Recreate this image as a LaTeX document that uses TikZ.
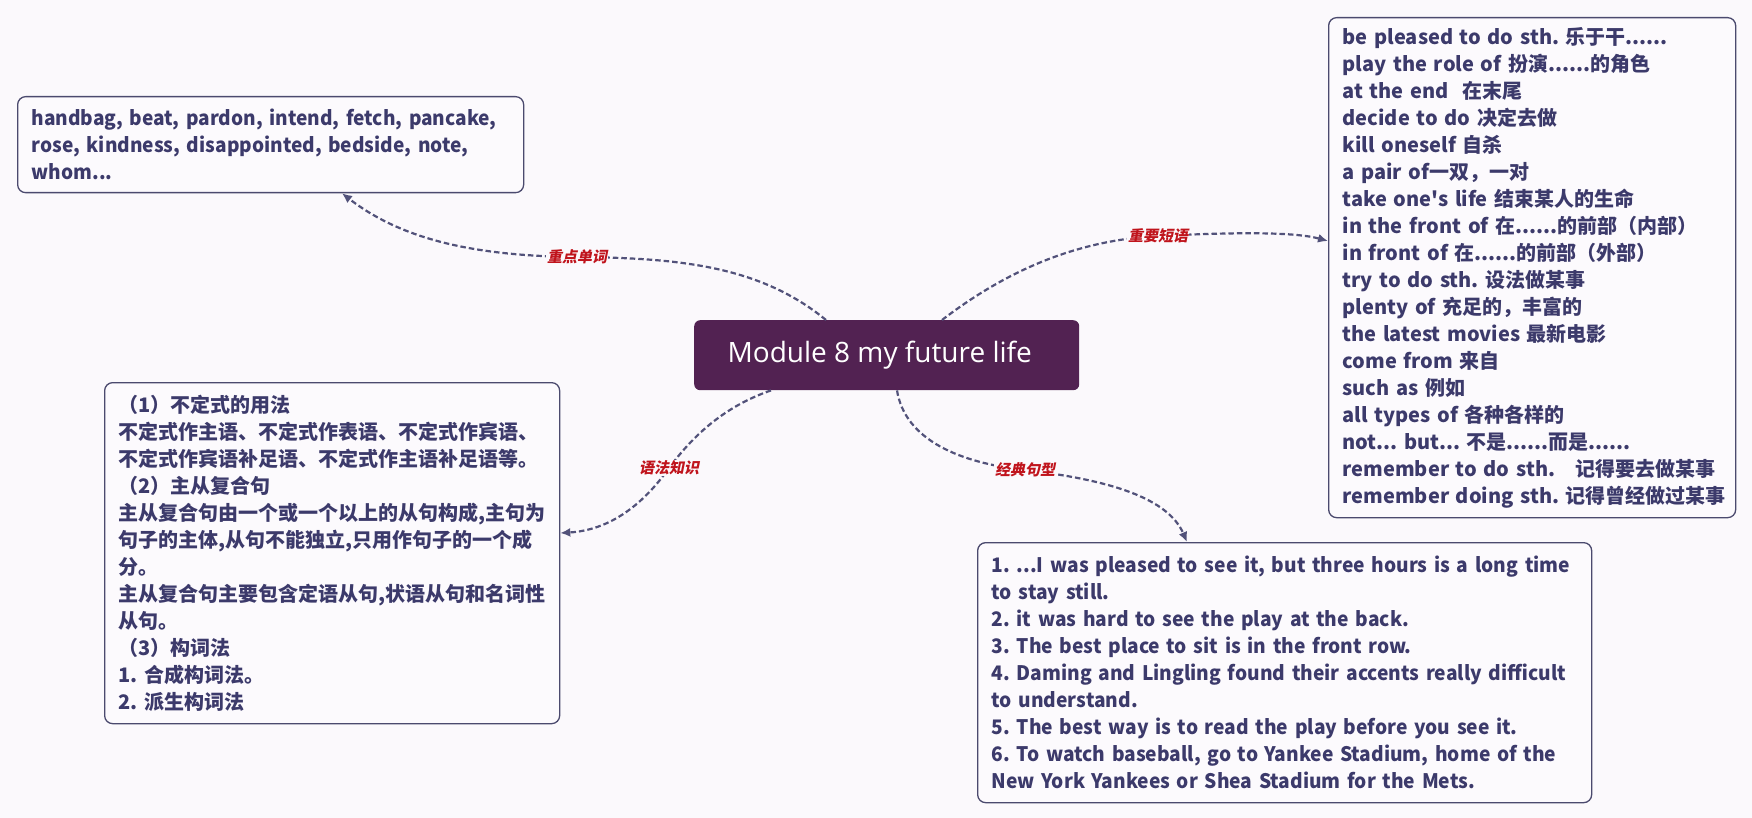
\documentclass[tikz,border=0pt]{standalone}
\usepackage{fontspec}
\setmainfont{Noto Sans CJK SC}[Ligatures=TeXOff]
\newfontfamily\lblfont[FakeSlant=0.2]{Noto Sans CJK SC}
\newfontfamily\brfont[FakeStretch=0.96,Ligatures=TeXOff]{Noto Sans CJK SC}
\newfontfamily\tlfont[FakeStretch=0.955,Ligatures=TeXOff]{Noto Sans CJK SC}
\newfontfamily\ctrfont{Open Sans}
\usetikzlibrary{arrows.meta}
\definecolor{bgc}{HTML}{FBF9FC}
\definecolor{boxfill}{HTML}{FCFAFD}
\definecolor{boxc}{HTML}{4B4A6E}
\definecolor{txtc}{HTML}{3C3A6B}
\definecolor{linec}{HTML}{52527A}
\definecolor{ctrc}{HTML}{522252}
\definecolor{lblc}{HTML}{C0141C}
\newcommand\Ln[1]{\mbox{#1}\\}
\newcommand\Lz[1]{\mbox{#1}}
\tikzset{
  box/.style={draw=boxc, line width=1.3pt, rounded corners=8pt, fill=boxfill,
    anchor=north west, inner xsep=14pt, inner ysep=0pt, align=left, text=txtc,
    font=\bfseries\fontsize{20}{27}\selectfont\frenchspacing},
  conn/.style={draw=linec, line width=2.2pt, dash pattern=on 5.5pt off 3pt,
    -{Latex[length=10pt,width=9pt]}},
  lbl/.style={font=\lblfont\bfseries\fontsize{15}{15}\selectfont, text=lblc, fill=bgc, inner sep=1pt},
  ctrbox/.style={fill=ctrc, rounded corners=6pt, anchor=north west, text=white,
    font=\ctrfont\fontsize{28}{30}\selectfont, inner sep=0pt}
}
\begin{document}
\begin{tikzpicture}[x=1pt,y=-1pt]
\fill[bgc] (0,0) rectangle (1752,818);
\useasboundingbox (0,0) rectangle (1752,818);

\node[ctrbox, minimum width=385pt, minimum height=70pt] (ctr) at (694,320) {\mbox{Module 8 my future life\kern14pt}};

\node[box, text width=478pt, minimum height=96pt, font=\tlfont\bfseries\fontsize{20}{27}\selectfont\frenchspacing] (tl) at (17,96)
{\Ln{handbag, beat, pardon, intend, fetch, pancake,}
\Ln{rose, kindness, disappointed, bedside, note,}
\Lz{whom...}};

\node[box, text width=379pt, minimum height=500pt] (tr) at (1328,17)
{\Ln{be pleased to do sth. 乐于干......}
\Ln{play the role of 扮演......的角色}
\Ln{at the end\ \ 在末尾}
\Ln{decide to do 决定去做}
\Ln{kill oneself 自杀}
\Ln{a pair of一双，一对}
\Ln{take one's life 结束某人的生命}
\Ln{in the front of 在......的前部（内部）}
\Ln{in front of 在......的前部（外部）}
\Ln{try to do sth. 设法做某事}
\Ln{plenty of 充足的，丰富的}
\Ln{the latest movies 最新电影}
\Ln{come from 来自}
\Ln{such as 例如}
\Ln{all types of 各种各样的}
\Ln{not... but... 不是......而是......}
\Ln{remember to do sth.\ \ \ 记得要去做某事}
\Lz{remember doing sth. 记得曾经做过某事}};

\node[box, text width=427pt, minimum height=341pt] (bl) at (104,382)
{\Ln{（1）不定式的用法}
\Ln{不定式作主语、不定式作表语、不定式作宾语、}
\Ln{不定式作宾语补足语、不定式作主语补足语等。}
\Ln{（2）主从复合句}
\Ln{主从复合句由一个或一个以上的从句构成,主句为}
\Ln{句子的主体,从句不能独立,只用作句子的一个成}
\Ln{分。}
\Ln{主从复合句主要包含定语从句,状语从句和名词性}
\Ln{从句。}
\Ln{（3）构词法}
\Ln{1. 合成构词法。}
\Lz{2. 派生构词法}};

\node[box, text width=586pt, minimum height=260pt, font=\brfont\bfseries\fontsize{20}{27}\selectfont\frenchspacing] (br) at (977,542)
{\Ln{1. ...I was pleased to see it, but three hours is a long time}
\Ln{to stay still.}
\Ln{2. it was hard to see the play at the back.}
\Ln{3. The best place to sit is in the front row.}
\Ln{4. Daming and Lingling found their accents really difficult}
\Ln{to understand.}
\Ln{5. The best way is to read the play before you see it.}
\Ln{6. To watch baseball, go to Yankee Stadium, home of the}
\Lz{New York Yankees or Shea Stadium for the Mets.}};

\coordinate (l1) at (577,257);
\coordinate (l2) at (1158,236);
\coordinate (l3) at (669,468);
\coordinate (l4) at (1025,470);

\draw[conn] ([xshift=132pt]ctr.north west) .. controls (760,266) and (680,258) .. (l1)
  .. controls (470,256) and (400,238) .. ([xshift=325pt]tl.south west);
\draw[conn] ([xshift=248pt]ctr.north west) .. controls (1010,268) and (1080,240) .. (l2)
  .. controls (1240,232) and (1295,232) .. ([yshift=-224pt]tr.north west);
\draw[conn] ([xshift=77pt]ctr.south west) .. controls (720,408) and (690,440) .. (l3)
  .. controls (645,502) and (612,530) .. ([yshift=-151pt]bl.north east);
\draw[conn] ([xshift=203pt]ctr.south west) .. controls (905,440) and (960,463) .. (l4)
  .. controls (1110,480) and (1168,498) .. ([xshift=210pt]br.north west);

\node[lbl] (lab1) at (l1) {重点单词};
\node[lbl] (lab2) at (l2) {重要短语};
\node[lbl] (lab3) at (l3) {语法知识};
\node[lbl] (lab4) at (l4) {经典句型};
\end{tikzpicture}
\end{document}
